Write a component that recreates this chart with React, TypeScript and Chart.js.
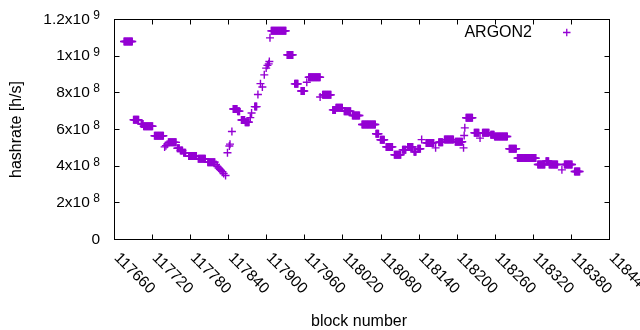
import React, { useEffect, useRef } from "react";
import { Chart, registerables } from "chart.js";

Chart.register(...registerables);

// ---- data: runs of consecutive blocks sharing one hashrate reading (h/s in millions)
const runStart = [
  117675, 117690, 117702, 117706, 117723, 117739, 117741, 117743, 117745, 117759,
  117764, 117769, 117777, 117792, 117807, 117820, 117822, 117824, 117826, 117828,
  117830, 117832, 117835, 117838, 117841, 117842, 117845, 117847, 117854, 117860,
  117866, 117874, 117876, 117881, 117886, 117890, 117893, 117896, 117899, 117901,
  117903, 117904, 117905, 117907, 117932, 117944, 117954, 117963, 117966, 117984,
  117988, 118004, 118009, 118022, 118035, 118050, 118072, 118079, 118088, 118101,
  118114, 118122, 118132, 118138, 118144, 118151, 118166, 118171, 118180, 118197,
  118210, 118211, 118212, 118214, 118227, 118236, 118240, 118253, 118259, 118282,
  118295, 118327, 118340, 118345, 118365, 118369, 118385,
];
const runEnd = [
  117688, 117698, 117705, 117720, 117737, 117739, 117741, 117743, 117757, 117762,
  117767, 117772, 117789, 117803, 117818, 117820, 117822, 117824, 117826, 117828,
  117830, 117832, 117835, 117838, 117841, 117842, 117845, 117853, 117857, 117865,
  117872, 117874, 117876, 117884, 117886, 117890, 117893, 117896, 117899, 117901,
  117903, 117904, 117905, 117930, 117941, 117949, 117959, 117963, 117984, 117984,
  118001, 118008, 118019, 118032, 118046, 118071, 118076, 118085, 118098, 118111,
  118119, 118130, 118135, 118142, 118144, 118163, 118166, 118177, 118194, 118208,
  118210, 118211, 118212, 118224, 118234, 118236, 118250, 118258, 118279, 118293,
  118324, 118338, 118344, 118358, 118365, 118381, 118393,
];
const runValue = [
  1080, 653, 630, 618, 566, 505, 512, 520, 530, 498,
  485, 473, 455, 440, 422, 409, 398, 390, 383, 377,
  370, 360, 349, 473, 510, 520, 589, 712, 700, 652,
  640, 665, 690, 725, 791, 850, 832, 898, 935, 950,
  958, 971, 1100, 1138, 1007, 849, 810, 858, 885, 777,
  789, 707, 718, 700, 676, 627, 577, 544, 505, 462,
  489, 505, 478, 495, 545, 527, 500, 531, 545, 533,
  500, 567, 609, 664, 582, 553, 582, 571, 562, 495,
  444, 409, 427, 409, 380, 409, 371,
];

const seriesLabel = "ARGON2";
const xTitle = "block number";
const yTitle = "hashrate [h/s]";
const xTickValues = [
  117660, 117720, 117780, 117840, 117900, 117960, 118020, 118080,
  118140, 118200, 118260, 118320, 118380, 118440,
];
const xTickLabels = [
  "117660", "117720", "117780", "117840", "117900", "117960", "118020", "118080",
  "118140", "118200", "118260", "118320", "118380", "118440",
];
const yTickValues = [0, 2e8, 4e8, 6e8, 8e8, 1e9, 1.2e9];
const yTickBase = ["0", "2x10", "4x10", "6x10", "8x10", "1x10", "1.2x10"];
const yTickExp = ["", "8", "8", "8", "8", "9", "9"];

const COLOR = "#9400d3";
const FONT = '"Liberation Sans", Arial, sans-serif';

function buildPoints() {
  const pts: { x: number; y: number }[] = [];
  for (let i = 0; i < runStart.length; i++) {
    for (let b = runStart[i]; b <= runEnd[i]; b++) {
      pts.push({ x: b, y: runValue[i] * 1e6 });
    }
  }
  return pts;
}

const framePlugin = {
  id: "gnuplotFrame",
  afterDraw(chart: any) {
    const { ctx, chartArea: a, scales } = chart;
    const xs = scales.x;
    const ys = scales.y;
    ctx.save();
    ctx.strokeStyle = "#000";
    ctx.lineWidth = 1;
    // border
    ctx.strokeRect(a.left, a.top, a.right - a.left, a.bottom - a.top);
    const tl = 5;
    ctx.beginPath();
    xTickValues.forEach((v) => {
      const px = Math.round(xs.getPixelForValue(v) - 0.5) + 0.5;
      ctx.moveTo(px, a.bottom);
      ctx.lineTo(px, a.bottom - tl);
      ctx.moveTo(px, a.top);
      ctx.lineTo(px, a.top + tl);
    });
    yTickValues.forEach((v) => {
      const py = Math.round(ys.getPixelForValue(v) - 0.5) + 0.5;
      ctx.moveTo(a.left, py);
      ctx.lineTo(a.left + tl, py);
      ctx.moveTo(a.right, py);
      ctx.lineTo(a.right - tl, py);
    });
    ctx.stroke();

    ctx.fillStyle = "#000";
    // y tick labels with superscript exponents
    const mainFont = `15.5px ${FONT}`;
    const supFont = `12px ${FONT}`;
    const rightEdge = 100;
    yTickValues.forEach((v, i) => {
      const py = ys.getPixelForValue(v);
      ctx.font = supFont;
      const sw = yTickExp[i] ? ctx.measureText(yTickExp[i]).width + 3.5 : 0;
      ctx.font = mainFont;
      ctx.textAlign = "right";
      ctx.textBaseline = "middle";
      ctx.fillText(yTickBase[i], rightEdge - sw, py);
      if (yTickExp[i]) {
        ctx.font = supFont;
        ctx.textAlign = "left";
        ctx.textBaseline = "alphabetic";
        ctx.fillText(yTickExp[i], rightEdge - sw + 3.5, py - 0.5);
      }
    });

    // x tick labels rotated -45 (down-right)
    ctx.font = mainFont;
    ctx.textAlign = "left";
    ctx.textBaseline = "middle";
    xTickValues.forEach((v, i) => {
      const px = xs.getPixelForValue(v);
      ctx.save();
      ctx.translate(px + 2, a.bottom + 16);
      ctx.rotate(Math.PI / 4);
      ctx.fillText(xTickLabels[i], 0, 0);
      ctx.restore();
    });

    // axis titles
    ctx.font = `16px ${FONT}`;
    ctx.textAlign = "center";
    ctx.textBaseline = "alphabetic";
    ctx.fillText(xTitle, 359, 326);
    ctx.save();
    ctx.translate(17, (a.top + a.bottom) / 2);
    ctx.rotate(-Math.PI / 2);
    ctx.textBaseline = "middle";
    ctx.fillText(yTitle, 0, 0);
    ctx.restore();

    // key
    ctx.font = `16px ${FONT}`;
    ctx.textAlign = "right";
    ctx.textBaseline = "middle";
    ctx.fillText(seriesLabel, 532, 32.5);
    ctx.strokeStyle = COLOR;
    ctx.lineWidth = 1.3;
    ctx.beginPath();
    ctx.moveTo(563, 32.5);
    ctx.lineTo(570.5, 32.5);
    ctx.moveTo(566.75, 28.75);
    ctx.lineTo(566.75, 36.25);
    ctx.stroke();
    ctx.restore();
  },
};

export default function App() {
  const ref = useRef<HTMLCanvasElement | null>(null);
  useEffect(() => {
    if (!ref.current) return;
    const chart = new Chart(ref.current, {
      type: "scatter",
      data: {
        datasets: [
          {
            label: seriesLabel,
            data: buildPoints(),
            pointStyle: "cross",
            pointRadius: 4,
            pointBorderWidth: 1.4,
            borderColor: COLOR,
            backgroundColor: COLOR,
            showLine: false,
          } as any,
        ],
      },
      options: {
        animation: false,
        responsive: false,
        devicePixelRatio: 1,
        events: [],
        layout: { padding: { left: 0, right: 30.5, top: 19.5, bottom: 0 } },
        plugins: { legend: { display: false }, tooltip: { enabled: false } },
        scales: {
          x: {
            type: "linear",
            min: 117660,
            max: 118440,
            ticks: { display: false, stepSize: 60 },
            grid: { display: false },
            border: { display: false },
            afterFit: (s: any) => {
              s.height = 90.5;
            },
          },
          y: {
            type: "linear",
            min: 0,
            max: 1.2e9,
            ticks: { display: false, stepSize: 2e8 },
            grid: { display: false },
            border: { display: false },
            afterFit: (s: any) => {
              s.width = 114.5;
            },
          },
        },
      } as any,
      plugins: [framePlugin],
    });
    return () => chart.destroy();
  }, []);
  return (
    <div style={{ position: "absolute", left: 0, top: 0, width: 640, height: 330, background: "#fff" }}>
      <canvas ref={ref} width={640} height={330} style={{ display: "block", width: 640, height: 330 }} />
    </div>
  );
}
